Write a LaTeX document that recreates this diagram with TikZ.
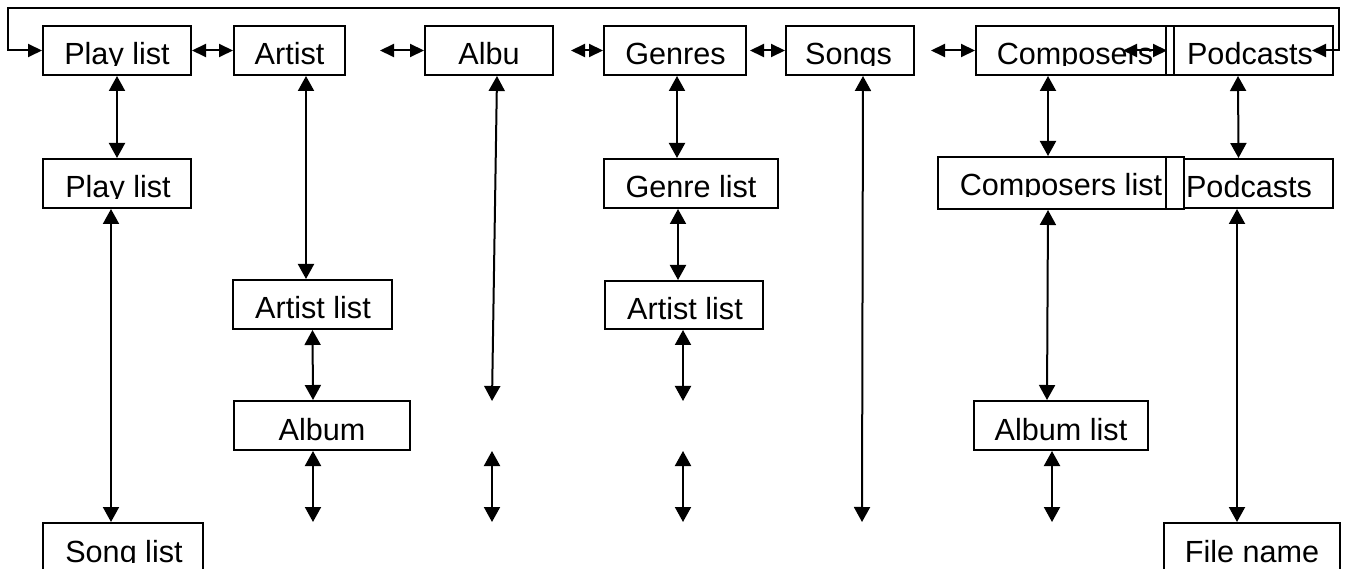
\documentclass[tikz,border=0pt]{standalone}
\usepackage{fontspec}
\setmainfont{Liberation Sans}
\usetikzlibrary{arrows.meta}
\tikzset{
  box/.style={draw, line width=2pt, inner sep=0pt},
  txt/.style={anchor=base, inner sep=0pt, font=\fontsize{30.6}{36}\selectfont},
  dbl/.style={line width=2pt, {Triangle[length=15pt,width=16pt]}-{Triangle[length=15pt,width=16pt]}},
  dblh/.style={line width=2pt, {Triangle[length=14pt,width=13pt]}-{Triangle[length=14pt,width=13pt]}},
}
\newcommand\mybox[7]{%
  \node[box, minimum width={(#4-#2)*1pt}, minimum height={(#5-#3)*1pt}] (#1) at ({(#2+#4)/2},{(#3+#5)/2}) {};
  \begin{scope}
    \clip (#2,#3) rectangle (#4,{#3+39.5});
    \node[txt] (#1t) at (#6,{#3+39}) {#7};
  \end{scope}}
\begin{document}
\begin{tikzpicture}[x=1pt,y=-1pt]
\useasboundingbox (0,0) rectangle (1350,569);
\fill[white] (0,0) rectangle (1350,569);
\clip (0,0) rectangle (1350,569);
% row 1
\mybox{pl}{43}{26}{191}{75}{117}{Play list}
\mybox{art}{234}{26}{345}{75}{289.5}{Artist}
\mybox{albu}{425}{26}{553}{75}{489}{Albu}
\mybox{gen}{604}{26}{746}{75}{675.5}{Genres}
\mybox{songs}{786}{26}{914}{75}{848.5}{Songs}
\mybox{comp}{976}{26}{1166}{75}{1075}{Composers}
\mybox{pod}{1174}{26}{1333}{75}{1250}{Podcasts}
\node[box, minimum width=8pt, minimum height=49pt] (th1) at (1170,50.5) {};
% row 2
\mybox{pltwo}{43}{159}{191}{208}{118}{Play list}
\mybox{gl}{604}{159}{778}{208}{691}{Genre list}
\mybox{cl}{938}{157}{1184}{209}{1061}{Composers list}
\mybox{podtwo}{1184}{159}{1333}{208}{1249}{Podcasts}
\node[box, minimum width=18pt, minimum height=52pt] (th2) at (1175,183) {};
% row 3
\mybox{alone}{233}{280}{392}{329}{313}{Artist list}
\mybox{altwo}{605}{281}{763}{329}{685}{Artist list}
% row 4
\mybox{alb}{234}{401}{410}{450}{322}{Album}
\mybox{ald}{974}{401}{1148}{450}{1061}{Album list}
% row 5
\mybox{sl}{43}{523}{203}{572}{124}{Song list}
\mybox{fn}{1164}{523}{1340}{572}{1252}{File name}
% free ends
\coordinate (hA) at (380,50.5);
\coordinate (hB) at (571,50.5);
\coordinate (hC) at (750,50.5);
\coordinate (hD) at (931,50.5);
\coordinate (hE) at (1123,50.5);
\coordinate (podtip) at (1312,50.5);
\coordinate (loopL) at (8,8);
\coordinate (loopR) at (1339,8);
\coordinate (vA) at (313,522);
\coordinate (vB) at (492,401);
\coordinate (vC) at (492,451);
\coordinate (vD) at (492,522);
\coordinate (vE) at (683,401);
\coordinate (vF) at (683,451);
\coordinate (vG) at (683,522);
\coordinate (vH) at (862,522);
\coordinate (vI) at (1052,522);
% horizontal connectors
\draw[dblh] (pl.east) -- (art.west);
\draw[dblh] (hA) -- (albu.west);
\draw[dblh] (hB) -- (gen.west);
\draw[dblh] (hC) -- (songs.west);
\draw[dblh] (hD) -- (comp.west);
\draw[dblh] (hE) -- (comp.east);
\draw[dblh] (pl.west) -| (loopL) -- (loopR) |- (podtip);
% vertical connectors
\draw[dbl] (pl.south) -- (pltwo.north);
\draw[dbl] ([xshift=-6pt]pltwo.south) -- ([xshift=-12pt]sl.north);
\draw[dbl] ([xshift=16.5pt]art.south) -- ([xshift=-6.5pt]alone.north);
\draw[dbl] (alone.south) -- ([xshift=-9pt]alb.north);
\draw[dbl] ([xshift=-9pt]alb.south) -- (vA);
\draw[dbl] ([xshift=8pt]albu.south) -- (vB);
\draw[dbl] (vC) -- (vD);
\draw[dbl] ([xshift=2pt]gen.south) -- ([xshift=-14pt]gl.north);
\draw[dbl] ([xshift=-13pt]gl.south) -- ([xshift=-6pt]altwo.north);
\draw[dbl] ([xshift=-1pt]altwo.south) -- (vE);
\draw[dbl] (vF) -- (vG);
\draw[dbl] ([xshift=13pt]songs.south) -- (vH);
\draw[dbl] ([xshift=-23pt]comp.south) -- ([xshift=-13pt]cl.north);
\draw[dbl] ([xshift=-13pt]cl.south) -- ([xshift=-14pt]ald.north);
\draw[dbl] ([xshift=-9pt]ald.south) -- (vI);
\draw[dbl] ([xshift=-15.5pt]pod.south) -- ([xshift=-20pt]podtwo.north);
\draw[dbl] ([xshift=-21.5pt]podtwo.south) -- ([xshift=-15pt]fn.north);
\end{tikzpicture}
\end{document}
